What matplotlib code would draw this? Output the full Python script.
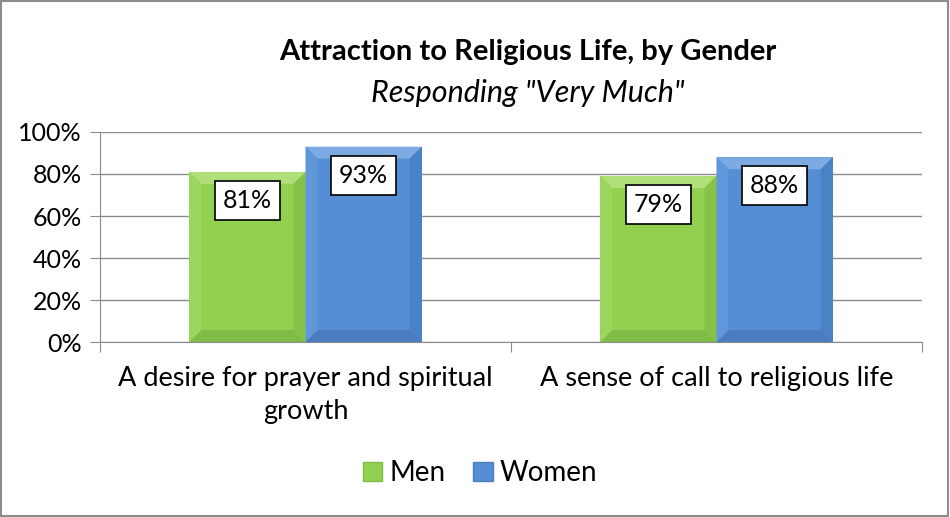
import matplotlib
matplotlib.use("Agg")
import matplotlib.pyplot as plt
from matplotlib.patches import Polygon, Rectangle, Patch
import numpy as np

categories = ["A desire for prayer and spiritual\ngrowth", "A sense of call to religious life"]
series_names = ["Men", "Women"]
men = [0.81, 0.79]
women = [0.93, 0.88]
yticks = [0, 0.2, 0.4, 0.6, 0.8, 1.0]
ytick_labels = ["0%", "20%", "40%", "60%", "80%", "100%"]

plt.rcParams['font.family'] = ['Lato', 'DejaVu Sans']

W, H = 950, 517
fig = plt.figure(figsize=(W / 100, H / 100), dpi=100)
ax = fig.add_axes([100 / W, 1 - 342 / H, 822 / W, 210 / H])

# base, top, bottom, left, right
colors = {"Men": ("#92D050", "#B0DE78", "#80BC45", "#9CD65E", "#86C248"),
          "Women": ("#558ED5", "#7EAAE4", "#4A7DC0", "#6097DA", "#4B82C6")}
bw = 0.283
x = np.arange(len(categories))
ax.set_xlim(-0.5, 1.5)
ax.set_ylim(0, 1.0)

ppx = 822 / 2.0   # px per x unit
ppy = 210 / 1.0   # px per y unit
b = 12
bx, by = b / ppx, b / ppy

def bevel_bar(xc, h, name):
    base, top_c, bot_c, left_c, right_c = colors[name]
    bars = ax.bar([xc], [h], width=bw, color=base, edgecolor="none", zorder=3)
    p = bars[0]
    x0, y0 = p.get_x(), p.get_y()
    x1, y1 = x0 + p.get_width(), y0 + p.get_height()
    polys = [
        ([(x0, y1), (x1, y1), (x1 - bx, y1 - by), (x0 + bx, y1 - by)], top_c),
        ([(x0, y0), (x1, y0), (x1 - bx, y0 + by), (x0 + bx, y0 + by)], bot_c),
        ([(x0, y0), (x0, y1), (x0 + bx, y1 - by), (x0 + bx, y0 + by)], left_c),
        ([(x1, y0), (x1, y1), (x1 - bx, y1 - by), (x1 - bx, y0 + by)], right_c),
    ]
    for pts, c in polys:
        ax.add_patch(Polygon(pts, closed=True, facecolor=c, edgecolor="none", zorder=4))
    ax.annotate(f"{round(h * 100)}%", (xc, y1), xytext=(0, -20.5), textcoords="offset points",
                ha="center", va="center", fontsize=18, zorder=6,
                bbox=dict(boxstyle="square,pad=0.32", fc="white", ec="black", lw=1.2))

for i in range(len(categories)):
    bevel_bar(x[i] - bw / 2, men[i], "Men")
    bevel_bar(x[i] + bw / 2, women[i], "Women")

ax.set_yticks(yticks)
ax.set_yticklabels(ytick_labels, fontsize=18)
ax.yaxis.grid(True, color="#8C8C8C", lw=1)
ax.set_axisbelow(True)
ax.set_xticks([-0.5, 0.5, 1.5])
ax.set_xticklabels([])
ax.tick_params(axis="y", length=7, color="#8C8C8C", pad=6)
ax.tick_params(axis="x", length=7, color="#8C8C8C")
for s in ["top", "right"]:
    ax.spines[s].set_visible(False)
for s in ["left", "bottom"]:
    ax.spines[s].set_color("#8C8C8C")
ax.set_facecolor("none")

for i, c in enumerate(categories):
    ax.text(x[i], -0.115, c, ha="center", va="top", fontsize=19.5, linespacing=1.4,
            transform=ax.transData)

fig.text(528 / W, 1 - 52 / H, "Attraction to Religious Life, by Gender", ha="center", va="center",
         fontsize=21, fontweight="bold")
fig.text(528 / W, 1 - 93 / H, 'Responding "Very Much"', ha="center", va="center",
         fontsize=22, fontstyle="italic")

handles = [Patch(facecolor=colors[n][0], edgecolor=colors[n][2]) for n in series_names]
fig.legend(handles, series_names, loc="center", bbox_to_anchor=(480 / W, 1 - 473 / H), ncol=2,
           frameon=False, fontsize=20, handlelength=0.7, handleheight=0.7, handletextpad=0.25,
           columnspacing=1.0)

fig.add_artist(Rectangle((0.001, 0.002), 0.997, 0.996, transform=fig.transFigure, fill=False,
                         ec="#8C8C8C", lw=1.5))

fig.savefig("out.png", dpi=100)
